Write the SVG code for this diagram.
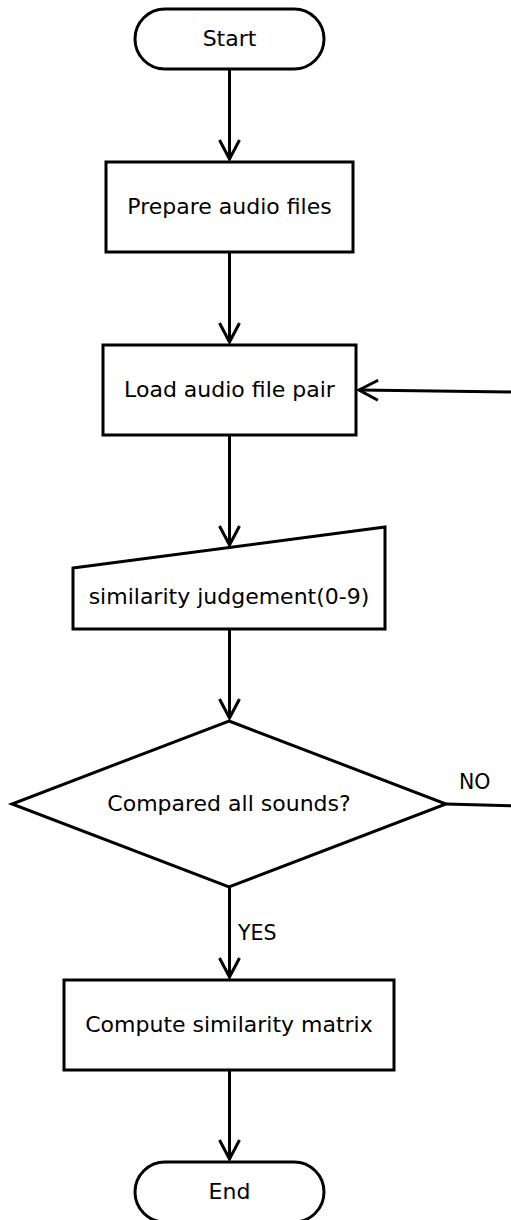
<svg xmlns="http://www.w3.org/2000/svg" width="511" height="1220" viewBox="0 0 511 1220">
  <style>
    .shape { fill: #ffffff; stroke: #000000; stroke-width: 3; }
    .label { font-family: "DejaVu Sans", "Liberation Sans", sans-serif; font-size: 22px; fill: #000000; text-anchor: middle; }
    .edge-label { font-family: "DejaVu Sans", "Liberation Sans", sans-serif; font-size: 20.5px; fill: #000000; }
    .conn { fill: none; stroke: #000000; stroke-width: 3; marker-end: url(#open-arrow); }
  </style>
  <defs>
    <marker id="open-arrow" viewBox="0 0 22 22" refX="20" refY="11" markerWidth="22" markerHeight="22" markerUnits="userSpaceOnUse" orient="auto" overflow="visible">
      <path d="M1,1 L20,11 L1,21" fill="none" stroke="#000000" stroke-width="3"/>
    </marker>
  </defs>
  <rect width="511" height="1220" fill="#ffffff"/>

  <g id="connectors">
    <path class="conn" d="M229.5,69 L229.5,159"/>
    <path class="conn" d="M229.5,252 L229.5,342"/>
    <path class="conn" d="M229.5,435 L229.5,545"/>
    <path class="conn" d="M229.5,629 L229.5,718"/>
    <path class="conn" d="M229.5,887 L229.5,977"/>
    <path class="conn" d="M229.5,1070 L229.5,1159"/>
    <!-- NO branch: leaves the diamond to the right and returns to the load step -->
    <path class="conn" d="M446,804 L560,807 L560,392.5 L359,390"/>
    <text class="edge-label" x="459" y="789">NO</text>
    <text class="edge-label" x="238" y="940">YES</text>
  </g>

  <g id="start">
    <rect class="shape" x="135" y="9" width="189" height="60" rx="30" ry="30"/>
    <text class="label" x="229.5" y="45.5">Start</text>
  </g>

  <g id="prepare">
    <rect class="shape" x="106" y="162" width="247" height="90"/>
    <text class="label" x="229.5" y="214">Prepare audio files</text>
  </g>

  <g id="load">
    <rect class="shape" x="103" y="345" width="253" height="90"/>
    <text class="label" x="229.5" y="397">Load audio file pair</text>
  </g>

  <g id="judgement">
    <polygon class="shape" points="73,568 385,527 385,629 73,629"/>
    <text class="label" x="229" y="604">similarity judgement(0-9)</text>
  </g>

  <g id="decision">
    <polygon class="shape" points="229,721 446,804 229,887 12,804"/>
    <text class="label" x="229" y="810.5">Compared all sounds?</text>
  </g>

  <g id="compute">
    <rect class="shape" x="64" y="980" width="330" height="90"/>
    <text class="label" x="229" y="1031.5">Compute similarity matrix</text>
  </g>

  <g id="end">
    <rect class="shape" x="135" y="1162" width="189" height="60" rx="30" ry="30"/>
    <text class="label" x="229.5" y="1198.5">End</text>
  </g>
</svg>
